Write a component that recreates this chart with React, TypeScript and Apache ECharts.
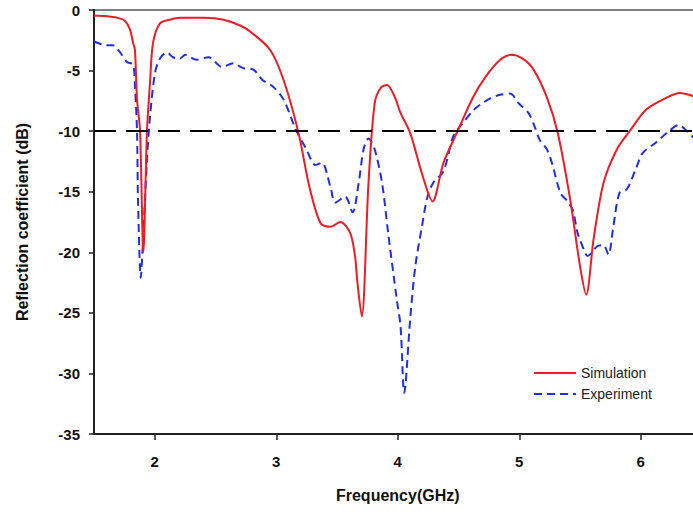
import React, { useEffect, useRef } from "react";
import * as echarts from "echarts";

const simFreq = [1.5, 1.593, 1.694, 1.755, 1.796, 1.821, 1.837, 1.854, 1.879, 1.906, 1.936, 1.961, 1.986, 2.043, 2.125, 2.207, 2.403, 2.565, 2.707, 2.788, 2.95, 3.061, 3.182, 3.273, 3.365, 3.446, 3.527, 3.608, 3.648, 3.668, 3.704, 3.759, 3.81, 3.861, 3.911, 3.972, 4.023, 4.104, 4.205, 4.286, 4.377, 4.488, 4.62, 4.731, 4.843, 4.934, 5.025, 5.116, 5.227, 5.318, 5.42, 5.501, 5.551, 5.612, 5.693, 5.804, 5.916, 6.047, 6.22, 6.321, 6.432, 6.5];
const simDb = [-0.45, -0.5, -0.65, -0.9, -1.6, -2.7, -3.3, -7.4, -10, -20, -10, -6, -2.7, -1.1, -0.8, -0.65, -0.65, -0.8, -1.3, -1.8, -3.3, -5.8, -10.1, -14.6, -17.6, -17.9, -17.5, -18.4, -20.3, -22.5, -25.3, -14.3, -7.7, -6.4, -6.2, -7.1, -8.5, -10.2, -13.7, -15.8, -12.6, -10.1, -7.2, -5.4, -4.1, -3.7, -4.0, -4.9, -7.2, -10.2, -15.7, -21.2, -23.5, -18.9, -14.3, -11.5, -9.9, -8.2, -7.2, -6.85, -7.1, -7.4];

const expFreq = [1.5, 1.603, 1.654, 1.715, 1.771, 1.821, 1.837, 1.854, 1.862, 1.885, 1.906, 1.936, 1.961, 2.002, 2.043, 2.101, 2.15, 2.207, 2.251, 2.342, 2.443, 2.555, 2.646, 2.727, 2.808, 2.889, 2.97, 3.061, 3.162, 3.243, 3.324, 3.375, 3.446, 3.486, 3.567, 3.628, 3.678, 3.719, 3.759, 3.81, 3.871, 3.921, 3.992, 4.023, 4.053, 4.104, 4.144, 4.195, 4.245, 4.296, 4.377, 4.458, 4.539, 4.62, 4.681, 4.762, 4.843, 4.924, 4.995, 5.076, 5.126, 5.167, 5.227, 5.268, 5.339, 5.389, 5.44, 5.48, 5.541, 5.561, 5.642, 5.693, 5.734, 5.774, 5.825, 5.885, 5.956, 6.017, 6.118, 6.22, 6.311, 6.381, 6.432, 6.5];
const expDb = [-2.6, -2.9, -2.9, -3.5, -4.3, -4.5, -6.3, -10, -15.6, -22.1, -18.4, -12.4, -8.8, -5.2, -4.0, -3.5, -3.9, -4.0, -3.7, -4.1, -3.9, -4.7, -4.4, -4.8, -4.9, -5.8, -6.3, -7.4, -9.9, -11.4, -12.8, -12.6, -14.6, -15.9, -15.4, -16.7, -14.3, -11.5, -10.6, -11.5, -14.3, -18.4, -23.9, -26.1, -31.6, -25.3, -21.2, -18.1, -15.4, -14.2, -13.3, -10.4, -9.3, -8.3, -7.8, -7.3, -7.0, -6.9, -7.7, -8.5, -9.6, -10.7, -11.5, -12.6, -15.1, -15.7, -16.5, -18.4, -20.0, -20.3, -19.5, -19.4, -20.2, -17.9, -15.1, -14.8, -13.2, -11.8, -11.0, -10.1, -9.5, -10.0, -10.5, -11.2];

const xTicks = [2, 3, 4, 5, 6];
const threshold = -10;

const font = "'Liberation Sans', Arial, sans-serif";

export default function App() {
  const ref = useRef<HTMLDivElement>(null);
  useEffect(() => {
    document.body.style.margin = "0";
    const chart = echarts.init(ref.current!, null, { renderer: "svg" });
    chart.setOption({
      animation: false,
      backgroundColor: "#fff",
      grid: { left: 94, top: 10, width: 607.5, height: 424, show: true, borderColor: "#555", borderWidth: 1.5 },
      legend: {
        left: 528,
        top: 361,
        orient: "vertical",
        itemWidth: 42,
        itemHeight: 10,
        itemGap: 7,
        itemStyle: { opacity: 0 },
        textStyle: { fontFamily: font, fontSize: 14, color: "#222" },
        data: ["Simulation", "Experiment"],
      },
      xAxis: {
        type: "value",
        min: 1.5,
        max: 6.5,
        name: "Frequency(GHz)",
        nameLocation: "middle",
        nameGap: 53,
        nameTextStyle: { fontFamily: font, fontSize: 16, fontWeight: "bold", color: "#111" },
        axisLine: { show: true, onZero: false, lineStyle: { color: "#222", width: 2 } },
        axisTick: { show: true, customValues: xTicks, length: 6, lineStyle: { color: "#222", width: 1.5 } },
        axisLabel: { customValues: xTicks, margin: 20, fontFamily: font, fontSize: 15, fontWeight: "bold", color: "#111" },
        splitLine: { show: false },
      },
      yAxis: {
        type: "value",
        min: -35,
        max: 0,
        interval: 5,
        name: "Reflection coefficient (dB)",
        nameLocation: "middle",
        nameGap: 64,
        nameTextStyle: { fontFamily: font, fontSize: 16, fontWeight: "bold", color: "#111" },
        axisLine: { show: true, lineStyle: { color: "#222", width: 2 } },
        axisTick: { show: true, length: 5, lineStyle: { color: "#222", width: 1.5 } },
        axisLabel: { margin: 14, fontFamily: font, fontSize: 15, fontWeight: "bold", color: "#111" },
        splitLine: { show: false },
      },
      series: [
        {
          name: "Simulation",
          type: "line",
          symbol: "none",
          smooth: 0.3,
          data: simFreq.map((f, i) => [f, simDb[i]]),
          lineStyle: { color: "#ee1c25", width: 2 },
          itemStyle: { color: "#ee1c25" },
          markLine: {
            silent: true,
            symbol: "none",
            label: { show: false },
            lineStyle: { color: "#000", width: 2, type: [22, 10] },
            data: [{ yAxis: threshold }],
          },
          z: 3,
        },
        {
          name: "Experiment",
          type: "line",
          symbol: "none",
          smooth: 0.3,
          data: expFreq.map((f, i) => [f, expDb[i]]),
          lineStyle: { color: "#1f2fe8", width: 2, type: [8, 5] },
          itemStyle: { color: "#1f2fe8" },
          z: 2,
        },
      ],
    });
    return () => chart.dispose();
  }, []);
  return (
    <div style={{ width: 693, height: 516, overflow: "hidden", position: "relative" }}>
      <div ref={ref} style={{ width: 720, height: 516 }} />
    </div>
  );
}
